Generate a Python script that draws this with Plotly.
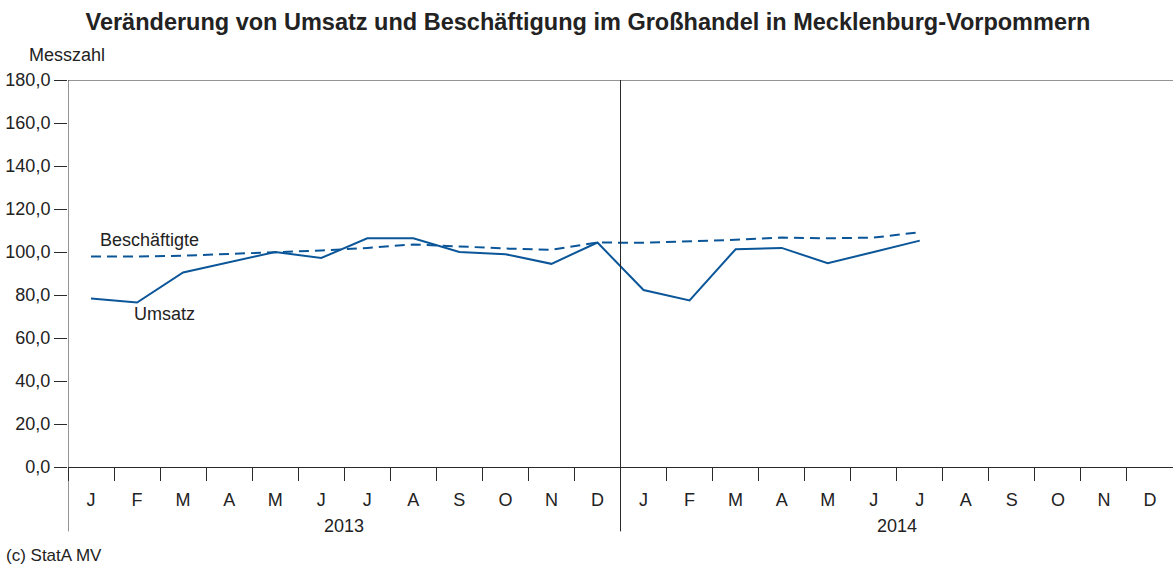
import plotly.graph_objects as go

months = ["J", "F", "M", "A", "M", "J", "J", "A", "S", "O", "N", "D"] * 2
years = ["2013", "2014"]
umsatz = [78.4, 76.5, 90.5, 95.3, 100.0, 97.2, 106.4, 106.4, 100.0, 99.0, 94.5, 104.4,
          82.3, 77.5, 101.3, 101.9, 94.8, 100.0, 105.3]
beschaeftigte = [97.9, 97.9, 98.3, 99.0, 99.8, 100.7, 101.9, 103.5, 102.6, 101.6, 101.0, 104.4,
                 104.3, 104.9, 105.7, 106.7, 106.4, 106.7, 109.2]
y_ticks = [0, 20, 40, 60, 80, 100, 120, 140, 160, 180]

W, H = 1173, 567
L, T, B = 68, 80, 467.5
R = 0
pw = W - L - R
ph = B - T

def px_x(p):
    return (p - L) / pw

def px_y(p):
    return (B - p) / ph

blue = "#0b5699"
axc = "#2a2a2a"
font = "Liberation Sans, Arial, sans-serif"

fig = go.Figure()
xs_u = list(range(len(umsatz)))
xs_b = list(range(len(beschaeftigte)))
fig.add_trace(go.Scatter(x=xs_b, y=beschaeftigte, mode="lines", name="Beschäftigte",
                         line=dict(color=blue, width=2, dash="10px,6px")))
fig.add_trace(go.Scatter(x=xs_u, y=umsatz, mode="lines", name="Umsatz",
                         line=dict(color=blue, width=2)))

fig.update_layout(
    width=W, height=H,
    margin=dict(l=L, r=R, t=T, b=H - B, autoexpand=False),
    plot_bgcolor="white", paper_bgcolor="white",
    showlegend=False,
    separators=", ",
    font=dict(family=font, size=18, color="#222222"),
    title=dict(text="<b>Veränderung von Umsatz und Beschäftigung im Großhandel in Mecklenburg-Vorpommern</b>",
               x=588 / W, xanchor="center", xref="container",
               y=1 - 22 / H, yanchor="middle", yref="container",
               font=dict(family=font, size=23.5, color="#222222")),
    xaxis=dict(range=[-0.5, 23.5], showgrid=False, zeroline=False,
               showline=True, linecolor=axc, linewidth=1,
               tickmode="array", tickvals=list(range(24)), ticktext=months,
               ticks="", ticklabelstandoff=16, automargin=False,
               minor=dict(tick0=-0.5, dtick=1, ticks="outside", ticklen=13,
                          tickcolor=axc, tickwidth=1, showgrid=False),
               tickfont=dict(size=18)),
    yaxis=dict(range=[0, 180], showgrid=False, zeroline=False,
               showline=False, automargin=False,
               tickmode="array", tickvals=y_ticks, tickformat=".1f",
               ticks="outside", ticklen=13, tickcolor=axc, tickwidth=1,
               tickfont=dict(size=18)),
)

ybot = px_y(532)
fig.add_shape(type="line", xref="x", yref="paper", x0=-0.5, x1=-0.5, y0=ybot, y1=1,
              line=dict(color=axc, width=1))
fig.add_shape(type="line", xref="x", yref="paper", x0=11.5, x1=11.5, y0=ybot, y1=1,
              line=dict(color=axc, width=1))
fig.add_shape(type="line", xref="x", yref="y", x0=-0.5, x1=23.5, y0=180, y1=180,
              line=dict(color=axc, width=1))

for i, yr in enumerate(years):
    fig.add_annotation(x=5.5 + 12 * i, xref="x", y=px_y(527), yref="paper",
                       text=yr, showarrow=False, font=dict(size=18),
                       xanchor="center", yanchor="middle")

fig.add_annotation(x=px_x(27), xref="paper", y=px_y(55), yref="paper", text="Messzahl",
                   showarrow=False, xanchor="left", yanchor="middle", font=dict(size=18))
fig.add_annotation(x=px_x(4), xref="paper", y=px_y(556), yref="paper", text="(c) StatA MV",
                   showarrow=False, xanchor="left", yanchor="middle", font=dict(size=17))
fig.add_annotation(x=px_x(98), xref="paper", y=px_y(240), yref="paper", text="Beschäftigte",
                   showarrow=False, xanchor="left", yanchor="middle", font=dict(size=18))
fig.add_annotation(x=px_x(132), xref="paper", y=px_y(314), yref="paper", text="Umsatz",
                   showarrow=False, xanchor="left", yanchor="middle", font=dict(size=18))

fig.write_html("out.html", config={"displayModeBar": False},
               post_script="document.body.style.margin='0';")
